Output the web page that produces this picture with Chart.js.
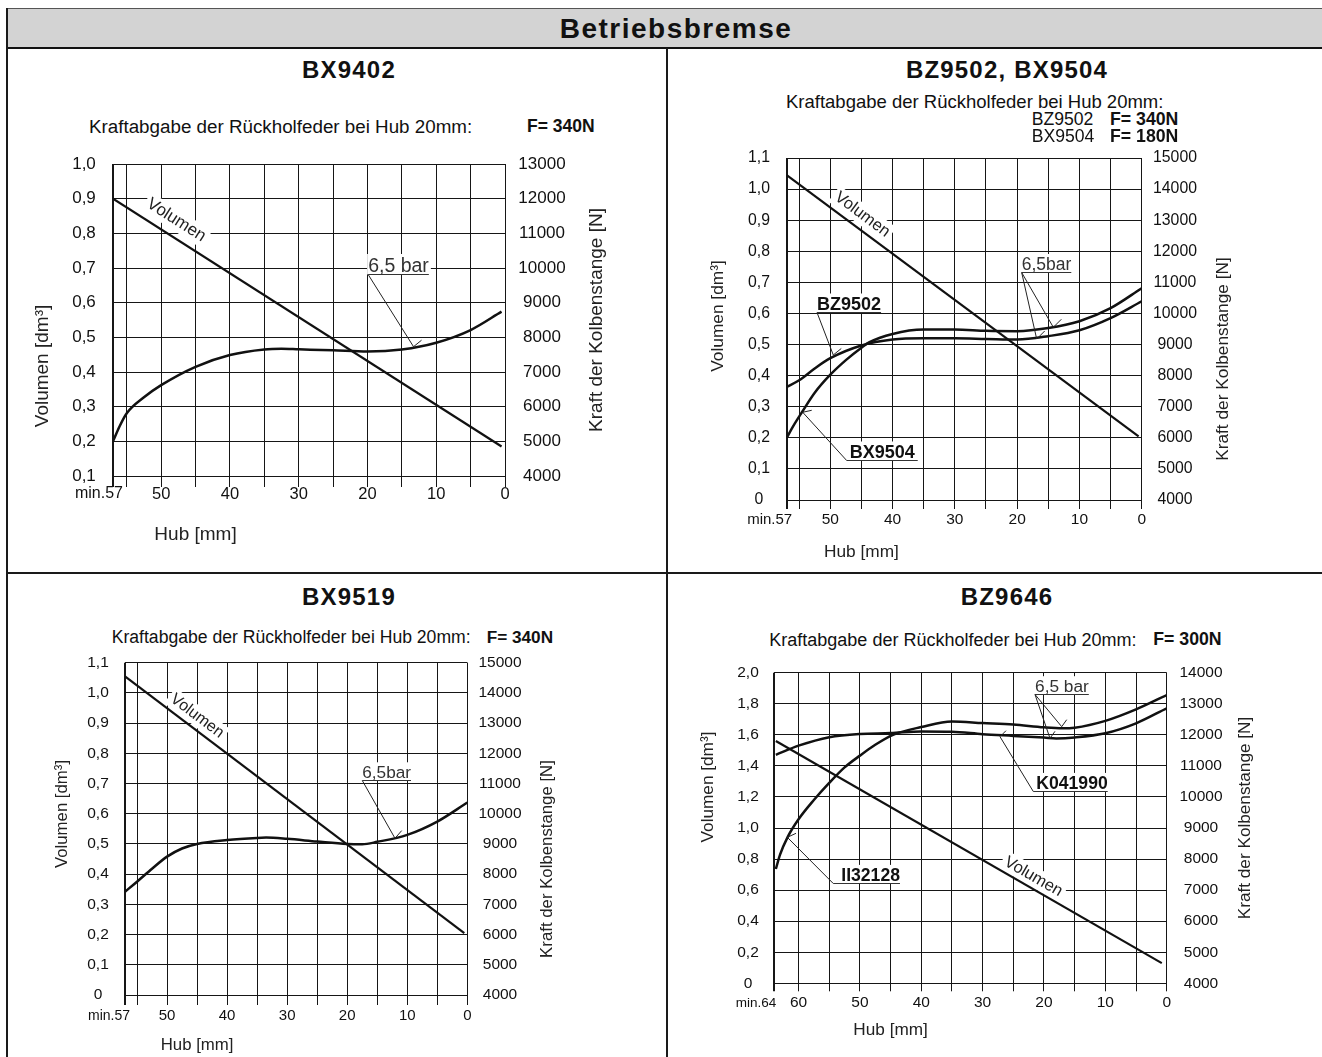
<!DOCTYPE html>
<html><head><meta charset="utf-8">
<script src="https://cdn.jsdelivr.net/npm/chart.js@4.4.1/dist/chart.umd.min.js"></script>
<style>
html,body{margin:0;padding:0;background:#fff;}
body{width:1322px;height:1057px;position:relative;overflow:hidden;font-family:'Liberation Sans',Arial,Helvetica,sans-serif;color:#111;}
.t{position:absolute;white-space:nowrap;line-height:1;z-index:3;}
.ln{position:absolute;background:#1a1a1a;z-index:2;}
canvas{position:absolute;z-index:1;}
</style></head><body>
<div style="position:absolute;left:7px;top:8px;width:1315px;height:38px;background:#d3d3d3;border-top:1px solid #555;border-bottom:2px solid #111;"></div>
<div class="ln" style="left:6px;top:8px;width:1.5px;height:1049px"></div>
<div class="ln" style="left:666px;top:48px;width:1.5px;height:1009px"></div>
<div class="ln" style="left:7px;top:572px;width:1315px;height:1.5px"></div>
<script>
// ================= DATA =================
// Panel 1: BX9402
const p1VolHub = [57, 0.5];
const p1Vol = [0.9, 0.185];
const p1Hub = [57, 56, 55, 52.5, 50, 45, 40, 35, 32.5, 30, 25, 20, 15, 10, 5, 0.5];
const p1Kraft = [5000, 5450, 5810, 6270, 6620, 7150, 7490, 7650, 7670, 7655, 7625, 7590, 7650, 7845, 8210, 8740];
const p1XTicks = [0, 5, 10, 15, 20, 25, 30, 35, 40, 45, 50, 55, 57];
const p1XLabels = [0, 10, 20, 30, 40, 50];
const p1YLTicks = [0.1, 0.2, 0.3, 0.4, 0.5, 0.6, 0.7, 0.8, 0.9, 1.0];
const p1YRTicks = [4000, 5000, 6000, 7000, 8000, 9000, 10000, 11000, 12000, 13000];

// Panel 2: BZ9502, BX9504
const p2VolHub = [57, 0.5];
const p2Vol = [1.045, 0.205];
const p2BZHub = [57, 55, 52.5, 50, 45, 40, 35, 30, 25, 20, 15, 10, 5, 0];
const p2BZKraft = [7640, 7850, 8230, 8560, 8970, 9160, 9200, 9200, 9180, 9160, 9270, 9460, 9850, 10390];
const p2BXHub = [57, 56, 54.5, 52.5, 50, 47.5, 45, 43.7, 40, 35, 30, 25, 20, 15, 10, 5, 0];
const p2BXKraft = [6000, 6360, 6840, 7450, 8030, 8500, 8900, 9075, 9340, 9480, 9480, 9440, 9430, 9530, 9750, 10170, 10810];
const p2XTicks = [0, 5, 10, 15, 20, 25, 30, 35, 40, 45, 50, 55, 57];
const p2XLabels = [0, 10, 20, 30, 40, 50];
const p2YLTicks = [0, 0.1, 0.2, 0.3, 0.4, 0.5, 0.6, 0.7, 0.8, 0.9, 1.0, 1.1];
const p2YRTicks = [4000, 5000, 6000, 7000, 8000, 9000, 10000, 11000, 12000, 13000, 14000, 15000];

// Panel 3: BX9519
const p3VolHub = [57, 0.5];
const p3Vol = [1.055, 0.205];
const p3Hub = [57, 55, 52.5, 50, 47.5, 45, 40, 35, 33.5, 30, 25, 20, 17.5, 15, 10, 5, 0];
const p3Kraft = [7420, 7750, 8180, 8580, 8850, 9000, 9130, 9200, 9210, 9170, 9080, 9000, 8990, 9070, 9300, 9740, 10370];
const p3XTicks = [0, 5, 10, 15, 20, 25, 30, 35, 40, 45, 50, 55, 57];
const p3XLabels = [0, 10, 20, 30, 40, 50];
const p3YLTicks = [0, 0.1, 0.2, 0.3, 0.4, 0.5, 0.6, 0.7, 0.8, 0.9, 1.0, 1.1];
const p3YRTicks = [4000, 5000, 6000, 7000, 8000, 9000, 10000, 11000, 12000, 13000, 14000, 15000];

// Panel 4: BZ9646
const p4VolHub = [63.7, 0.8];
const p4Vol = [1.56, 0.13];
const p4IIHub = [63.7, 63, 61.8, 60, 57.5, 55, 52.5, 50, 47.5, 44.6, 40, 35, 30, 25, 20, 17, 15, 10, 5, 0];
const p4IIKraft = [7680, 8150, 8700, 9280, 9900, 10450, 10950, 11330, 11680, 12000, 12250, 12430, 12380, 12330, 12240, 12210, 12230, 12450, 12820, 13280];
const p4KHub = [63.7, 60, 55, 50, 45, 40, 35, 30, 25, 20, 18, 15, 10, 5, 0];
const p4KKraft = [11355, 11650, 11925, 12030, 12055, 12110, 12100, 12020, 11965, 11910, 11885, 11915, 12050, 12370, 12855];
const p4XTicks = [0, 5, 10, 15, 20, 25, 30, 35, 40, 45, 50, 55, 60, 64];
const p4XLabels = [0, 10, 20, 30, 40, 50, 60];
const p4YLTicks = [0, 0.2, 0.4, 0.6, 0.8, 1.0, 1.2, 1.4, 1.6, 1.8, 2.0];
const p4YRTicks = [4000, 5000, 6000, 7000, 8000, 9000, 10000, 11000, 12000, 13000, 14000];

// ================= HELPERS =================
const FONT = "'Liberation Sans', Arial, Helvetica, sans-serif";
const GRID = '#161616';
const mctx = document.createElement('canvas').getContext('2d');
function textW(s, size, bold){ mctx.font = (bold?'bold ':'') + size + 'px ' + FONT; return mctx.measureText(s).width; }

function T(txt, x, y, size, o){
  o = o || {};
  const d = document.createElement('div');
  d.className = 't'; d.textContent = txt;
  d.style.left = x + 'px'; d.style.top = y + 'px'; d.style.fontSize = size + 'px';
  if (o.bold) d.style.fontWeight = 'bold';
  if (o.ls) d.style.letterSpacing = o.ls + 'px';
  d.style.transform = o.c ? 'translate(-50%,-50%)' : 'translate(0,-50%)';
  document.body.appendChild(d);
}

function annotPlugin(P){
  return {
    id: 'annot' + P.id,
    beforeDatasetsDraw(chart){
      const ctx = chart.ctx;
      const X = v => chart.scales.x.getPixelForValue(v);
      const Y = (v, a) => chart.scales[a === 'L' ? 'yL' : 'yR'].getPixelForValue(v);
      const vs = P.series[0];
      const n = vs.hub.length - 1;
      const ang = Math.atan2(Y(vs.val[n],'L') - Y(vs.val[0],'L'), X(vs.hub[n]) - X(vs.hub[0]));
      ctx.save();
      ctx.translate(X(P.volLab.x), Y(P.volLab.y, 'L'));
      ctx.rotate(ang);
      ctx.font = P.f.vol + 'px ' + FONT;
      const w = ctx.measureText('Volumen').width;
      ctx.fillStyle = '#fff';
      ctx.fillRect(-w/2 - 3, -P.f.vol*0.6, w + 6, P.f.vol*1.2);
      ctx.fillStyle = '#222'; ctx.textAlign = 'center'; ctx.textBaseline = 'middle';
      ctx.fillText('Volumen', 0, 0);
      ctx.restore();
      for (const L of P.labels){
        const lx = X(L.x), ly = Math.round(Y(L.y, L.ax)) + 0.5, dx = L.dx || 0;
        ctx.save();
        ctx.font = (L.bold ? 'bold ' : '') + L.size + 'px ' + FONT;
        const tw = ctx.measureText(L.text).width;
        ctx.fillStyle = '#fff';
        ctx.fillRect(lx - 1, ly - L.size - 1, dx + tw + 3, L.size + 1);
        ctx.fillStyle = L.bold ? '#111' : '#333';
        ctx.textAlign = 'left'; ctx.textBaseline = 'alphabetic';
        ctx.fillText(L.text, lx + dx, ly - 3);
        ctx.strokeStyle = '#333'; ctx.lineWidth = 1;
        ctx.beginPath(); ctx.moveTo(lx, ly); ctx.lineTo(lx + dx + tw + (L.ux || 0), ly); ctx.stroke();
        ctx.restore();
      }
    },
    afterDatasetsDraw(chart){
      const ctx = chart.ctx;
      const X = v => chart.scales.x.getPixelForValue(v);
      const Y = (v, a) => chart.scales[a === 'L' ? 'yL' : 'yR'].getPixelForValue(v);
      ctx.save();
      ctx.strokeStyle = '#222'; ctx.lineWidth = 1;
      for (const L of P.labels){
        const lx = X(L.x), ly = Math.round(Y(L.y, L.ax)) + 0.5;
        for (const ld of L.leaders){
          const ex = X(ld.x), ey = Y(ld.y, ld.ax);
          ctx.beginPath(); ctx.moveTo(lx, ly); ctx.lineTo(ex, ey);
          ctx.moveTo(ex, ey); ctx.lineTo(ex + ld.barb[0], ey + ld.barb[1]);
          ctx.stroke();
        }
      }
      ctx.restore();
    },
    afterDraw(chart){
      const ctx = chart.ctx, B = P.box;
      const X = v => chart.scales.x.getPixelForValue(v);
      ctx.save();
      ctx.fillStyle = '#111'; ctx.textAlign = 'center'; ctx.textBaseline = 'middle';
      ctx.font = P.f.min + 'px ' + FONT;
      ctx.fillText(P.minLab.text, X(P.xMax) + P.minLab.dx, P.lab.x - B.y);
      ctx.font = P.f.title + 'px ' + FONT;
      ctx.fillStyle = '#222';
      ctx.fillText('Hub [mm]', X(45), P.titles.hub - B.y);
      const vt = (s, x, y) => { ctx.save(); ctx.translate(x - B.x, y - B.y); ctx.rotate(-Math.PI/2); ctx.fillText(s, 0, 0); ctx.restore(); };
      vt('Volumen [dm³]', P.titles.yL[0], P.titles.yL[1]);
      vt('Kraft der Kolbenstange [N]', P.titles.yR[0], P.titles.yR[1]);
      ctx.restore();
    }
  };
}

function makePanel(P){
  const B = P.box, A = P.area;
  const cv = document.createElement('canvas');
  cv.width = B.w; cv.height = B.h;
  cv.style.left = B.x + 'px'; cv.style.top = B.y + 'px';
  cv.style.width = B.w + 'px'; cv.style.height = B.h + 'px';
  document.body.appendChild(cv);
  const fmtL = v => v === 0 ? '0' : v.toFixed(1).replace('.', ',');
  const wL = A.l - B.x, wR = B.x + B.w - A.r, hX = B.y + B.h - A.b, padT = A.t - B.y;
  const widestL = Math.max(...P.yLTicks.map(v => textW(fmtL(v), P.f.tick)));
  const widestR = Math.max(...P.yRTicks.map(v => textW(String(v), P.f.tick)));
  const padL = (A.l - P.lab.yL) - widestL/2;
  const padR = (P.lab.yR - A.r) - widestR/2;
  const padX = (P.lab.x - A.b) - P.tickLen - P.f.xtick*0.6;
  const edgeW = c => (c.tick && c.tick.value === P.xMax) ? 2 : 1;
  const noPad = s => { s.paddingTop = 0; s.paddingBottom = 0; s.paddingLeft = 0; s.paddingRight = 0; };
  new Chart(cv, {
    type: 'line',
    data: { datasets: P.series.map(s => ({
      data: s.hub.map((h, i) => ({x: h, y: s.val[i]})),
      yAxisID: s.axis === 'L' ? 'yL' : 'yR',
      borderColor: '#111', borderWidth: s.w, pointRadius: 0, fill: false,
      cubicInterpolationMode: s.hub.length > 2 ? 'monotone' : 'default', tension: 0
    }))},
    options: {
      responsive: false, animation: false, devicePixelRatio: 1,
      layout: { padding: {left: 0, right: 0, top: padT, bottom: 0} },
      plugins: { legend: {display: false}, tooltip: {enabled: false}, title: {display: false} },
      scales: {
        x: {
          type: 'linear', position: 'bottom', reverse: true, min: 0, max: P.xMax,
          afterBuildTicks: s => { s.ticks = P.xTicks.map(v => ({value: v})); },
          afterFit: s => { s.height = hX; noPad(s); },
          ticks: { autoSkip: false, maxRotation: 0, minRotation: 0, padding: padX, color: '#111',
                   font: {family: FONT, size: P.f.xtick, lineHeight: 1.2},
                   callback: v => P.xLabels.includes(v) ? String(v) : '' },
          grid: { color: GRID, lineWidth: edgeW, tickWidth: edgeW, tickColor: GRID, drawTicks: true, tickLength: P.tickLen },
          border: { display: false }
        },
        yL: {
          type: 'linear', position: 'left', min: P.yLTicks[0], max: P.yLTicks[P.yLTicks.length-1],
          afterBuildTicks: s => { s.ticks = P.yLTicks.map(v => ({value: v})); },
          afterFit: s => { s.width = wL; noPad(s); },
          ticks: { autoSkip: false, crossAlign: 'center', padding: padL, color: '#111',
                   font: {family: FONT, size: P.f.tick}, callback: v => fmtL(v) },
          grid: { color: GRID, lineWidth: 1, drawTicks: false },
          border: { display: false }
        },
        yR: {
          type: 'linear', position: 'right', min: P.yRTicks[0], max: P.yRTicks[P.yRTicks.length-1],
          afterBuildTicks: s => { s.ticks = P.yRTicks.map(v => ({value: v})); },
          afterFit: s => { s.width = wR; noPad(s); },
          ticks: { autoSkip: false, crossAlign: 'center', padding: padR, color: '#111',
                   font: {family: FONT, size: P.f.tick}, callback: v => String(v) },
          grid: { display: false, drawTicks: false },
          border: { display: false }
        }
      }
    },
    plugins: [annotPlugin(P)]
  });
}

// ================= PANELS =================
const PANELS = [
  { id: 1, box: {x: 10, y: 140, w: 650, h: 430}, area: {l: 113, t: 164, r: 505, b: 476},
    xMax: 57, xTicks: p1XTicks, xLabels: p1XLabels, yLTicks: p1YLTicks, yRTicks: p1YRTicks, tickLen: 11,
    f: {tick: 17, xtick: 16.5, title: 19, vol: 17, min: 16},
    lab: {yL: 84, yR: 542, x: 494},
    titles: {yL: [43, 366], yR: [597, 320], hub: 535},
    minLab: {text: 'min.57', dx: -14},
    series: [ {hub: p1VolHub, val: p1Vol, axis: 'L', w: 2.2}, {hub: p1Hub, val: p1Kraft, axis: 'R', w: 2.5} ],
    volLab: {x: 47.8, y: 0.838},
    labels: [ {text: '6,5 bar', x: 19.9, y: 9827, ax: 'R', size: 19.5,
               leaders: [{x: 13.3, y: 7730, ax: 'R', barb: [8, -6.5]}]} ] },
  { id: 2, box: {x: 670, y: 145, w: 650, h: 425}, area: {l: 786.7, t: 158, r: 1141.7, b: 500},
    xMax: 57, xTicks: p2XTicks, xLabels: p2XLabels, yLTicks: p2YLTicks, yRTicks: p2YRTicks, tickLen: 9,
    f: {tick: 15.8, xtick: 15.5, title: 17.3, vol: 16.5, min: 15},
    lab: {yL: 759, yR: 1175, x: 520},
    titles: {yL: [718, 316], yR: [1223, 359], hub: 552},
    minLab: {text: 'min.57', dx: -17},
    series: [ {hub: p2VolHub, val: p2Vol, axis: 'L', w: 2.2},
              {hub: p2BZHub, val: p2BZKraft, axis: 'R', w: 2.5},
              {hub: p2BXHub, val: p2BXKraft, axis: 'R', w: 2.5} ],
    volLab: {x: 44.86, y: 0.918},
    labels: [ {text: 'BZ9502', bold: true, x: 52.13, y: 10047, ax: 'R', size: 18,
               leaders: [{x: 49.52, y: 8664, ax: 'R', barb: [8, -6.5]}]},
              {text: 'BX9504', bold: true, x: 47.37, y: 5287, ax: 'R', size: 18, dx: 3, ux: 3,
               leaders: [{x: 54.43, y: 6821, ax: 'R', barb: [9, -2]}]},
              {text: '6,5bar', x: 19.27, y: 11343, ax: 'R', size: 17.5,
               leaders: [{x: 14.19, y: 9555, ax: 'R', barb: [8, -8]}, {x: 16.86, y: 9178, ax: 'R', barb: [8, -8]}]} ] },
  { id: 3, box: {x: 10, y: 650, w: 650, h: 407}, area: {l: 125, t: 662.7, r: 467.3, b: 995},
    xMax: 57, xTicks: p3XTicks, xLabels: p3XLabels, yLTicks: p3YLTicks, yRTicks: p3YRTicks, tickLen: 10,
    f: {tick: 15.5, xtick: 15, title: 16.8, vol: 16, min: 14},
    lab: {yL: 98, yR: 500, x: 1016},
    titles: {yL: [62, 814], yR: [547, 859], hub: 1045},
    minLab: {text: 'min.57', dx: -16},
    series: [ {hub: p3VolHub, val: p3Vol, axis: 'L', w: 2.2}, {hub: p3Hub, val: p3Kraft, axis: 'R', w: 2.5} ],
    volLab: {x: 45.0, y: 0.9235},
    labels: [ {text: '6,5bar', x: 17.49, y: 11117, ax: 'R', size: 17.2,
               leaders: [{x: 12.04, y: 9187, ax: 'R', barb: [6.7, -7.7]}]} ] },
  { id: 4, box: {x: 670, y: 650, w: 650, h: 407}, area: {l: 774, t: 672.7, r: 1166.7, b: 983.3},
    xMax: 64, xTicks: p4XTicks, xLabels: p4XLabels, yLTicks: p4YLTicks, yRTicks: p4YRTicks, tickLen: 8,
    f: {tick: 15.5, xtick: 15.5, title: 17.2, vol: 16.5, min: 13.5},
    lab: {yL: 748, yR: 1201, x: 1003},
    titles: {yL: [708, 787], yR: [1245, 818], hub: 1030},
    minLab: {text: 'min.64', dx: -18},
    series: [ {hub: p4VolHub, val: p4Vol, axis: 'L', w: 2.2},
              {hub: p4IIHub, val: p4IIKraft, axis: 'R', w: 2.5},
              {hub: p4KHub, val: p4KKraft, axis: 'R', w: 2.5} ],
    volLab: {x: 21.74, y: 0.6864},
    labels: [ {text: '6,5 bar', x: 21.46, y: 13314, ax: 'R', size: 17.3,
               leaders: [{x: 17.11, y: 12262, ax: 'R', barb: [5, -7]}, {x: 19.02, y: 11888, ax: 'R', barb: [5, -7]}]},
              {text: 'II32128', bold: true, x: 54.34, y: 7220, ax: 'R', size: 17.6, dx: 8,
               leaders: [{x: 61.83, y: 8700, ax: 'R', barb: [8.7, -4]}]},
              {text: 'K041990', bold: true, x: 21.74, y: 10201, ax: 'R', size: 17.6, dx: 3,
               leaders: [{x: 27.17, y: 11940, ax: 'R', barb: [6, -6]}]} ] }
];
PANELS.forEach(makePanel);

// ================= TEXTS =================
T('Betriebsbremse', 676, 29, 28, {bold: true, c: true, ls: 1.5});
T('BX9402', 349, 70, 24, {bold: true, c: true, ls: 1.2});
T('BZ9502, BX9504', 1007, 70, 24, {bold: true, c: true, ls: 1.2});
T('BX9519', 349, 597, 24, {bold: true, c: true, ls: 1.2});
T('BZ9646', 1007, 597, 24, {bold: true, c: true, ls: 1.2});

T('Kraftabgabe der Rückholfeder bei Hub 20mm:', 89, 127, 18.8);
T('F= 340N', 527, 127, 17.5, {bold: true});

T('Kraftabgabe der Rückholfeder bei Hub 20mm:', 786, 102, 18.5);
T('BZ9502', 1031.7, 120, 17.6);
T('F= 340N', 1110, 120, 17.7, {bold: true});
T('BX9504', 1031.7, 137, 17.6);
T('F= 180N', 1110, 137, 17.7, {bold: true});

T('Kraftabgabe der Rückholfeder bei Hub 20mm:', 111.7, 638, 17.6);
T('F= 340N', 486.7, 638, 17.2, {bold: true});

T('Kraftabgabe der Rückholfeder bei Hub 20mm:', 769.3, 640, 18);
T('F= 300N', 1153.3, 640, 17.7, {bold: true});
</script>
</body></html>
